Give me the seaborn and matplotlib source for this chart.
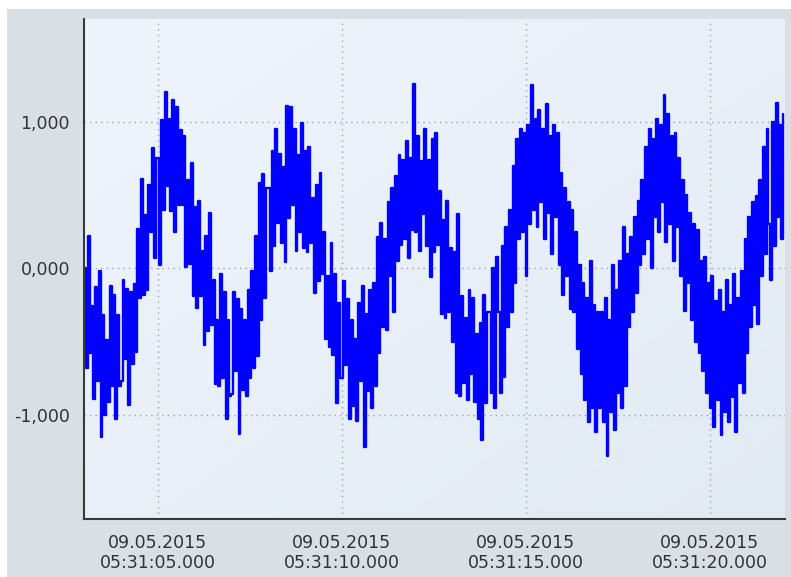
import matplotlib
matplotlib.use("Agg")
import matplotlib.pyplot as plt
import matplotlib.dates as mdates
from matplotlib.colors import LinearSegmentedColormap
from matplotlib.patches import Rectangle
from matplotlib.ticker import FixedLocator, MultipleLocator, FuncFormatter
import seaborn as sns
import numpy as np
import pandas as pd

# --- Data (one row per second, 50 ms sampling) ---
start_time = "2015-05-09 05:31:03.000"
sample_period = "50ms"
signal = [
    # 05:31:03
    0.00, -0.68, 0.22, -0.58, -0.26, -0.89, -0.13, -0.77, -0.02, -1.15,
    -0.32, -1.00, -0.49, -0.91, -0.12, -0.80, -0.18, -1.03, -0.32, -0.80,
    # 05:31:04
    -0.77, -0.08, -0.62, -0.14, -0.93, -0.16, -0.65, -0.11, -0.57, 0.27,
    -0.20, 0.61, -0.18, 0.36, -0.15, 0.57, 0.25, 0.82, 0.07, 0.75,
    # 05:31:05
    0.75, 0.02, 1.01, 0.40, 1.20, 0.56, 1.02, 0.39, 1.15, 0.25,
    1.10, 0.43, 0.94, 0.43, 0.90, 0.01, 0.60, 0.03, 0.72, -0.19,
    # 05:31:06
    0.42, -0.27, 0.46, -0.19, 0.12, -0.52, 0.22, -0.43, 0.38, -0.39,
    -0.08, -0.79, -0.35, -0.80, -0.04, -0.75, -0.16, -1.03, -0.35, -0.87,
    # 05:31:07
    -0.86, -0.16, -0.70, -0.21, -1.13, -0.28, -0.83, -0.35, -0.87, -0.15,
    -0.75, -0.02, -0.68, 0.22, -0.60, 0.58, -0.35, 0.64, -0.20, 0.55,
    # 05:31:08
    0.55, -0.02, 0.80, 0.15, 0.95, 0.31, 0.78, 0.17, 0.69, 0.04,
    1.11, 0.34, 1.10, 0.43, 0.95, 0.12, 0.77, 0.25, 0.99, 0.14,
    # 05:31:09
    0.80, 0.11, 0.83, 0.17, 0.48, -0.17, 0.57, -0.09, 0.65, -0.04,
    0.25, -0.48, -0.05, -0.54, 0.17, -0.59, -0.04, -0.92, -0.24, -0.75,
    # 05:31:10
    -0.75, -0.09, -0.66, -0.21, -1.03, -0.35, -0.94, -0.48, -1.04, -0.24,
    -0.77, -0.12, -1.22, -0.31, -0.84, -0.15, -0.95, -0.10, -0.80, 0.21,
    # 05:31:11
    -0.58, 0.31, -0.40, 0.20, -0.42, 0.45, -0.05, 0.55, -0.30, 0.63,
    0.05, 0.77, 0.16, 0.74, 0.20, 0.87, 0.07, 0.75, 0.26, 1.26,
    # 05:31:12
    0.25, 0.90, 0.12, 0.73, 0.37, 0.95, 0.15, 0.74, -0.06, 0.88,
    0.11, 0.92, 0.16, 0.53, -0.31, 0.33, -0.34, 0.46, -0.30, 0.14,
    # 05:31:13
    -0.50, 0.11, -0.85, 0.37, -0.87, -0.19, -0.78, -0.34, -0.90, -0.15,
    -0.72, -0.20, -0.91, -0.45, -1.03, -0.37, -1.17, -0.18, -0.92, -0.30,
    # 05:31:14
    -0.30, -0.85, 0.00, -0.95, 0.08, -0.30, -0.85, 0.15, -0.74, 0.28,
    -0.40, 0.40, -0.30, 0.70, -0.10, 0.88, 0.20, 0.95, 0.25, 0.92,
    # 05:31:15
    -0.05, 0.98, 0.30, 1.25, 0.40, 1.02, 0.28, 1.08, 0.45, 0.95,
    0.20, 1.12, 0.38, 0.90, 0.10, 0.98, 0.35, 0.92, 0.02, 0.65,
    # 05:31:16
    -0.18, 0.55, -0.05, 0.45, -0.28, 0.40, -0.30, 0.25, -0.55, 0.02,
    -0.72, -0.10, -0.90, -0.20, -1.05, 0.05, -0.95, -0.25, -1.12, -0.30,
    # 05:31:17
    -0.95, -0.30, -1.05, -0.20, -1.28, -0.35, -0.98, 0.02, -1.10, -0.15,
    -0.85, 0.05, -0.95, 0.28, -0.80, 0.10, -0.40, 0.21, -0.30, 0.35,
    # 05:31:18
    -0.17, 0.46, 0.02, 0.60, 0.10, 0.83, 0.20, 0.95, 0.00, 0.88,
    0.35, 1.02, 0.25, 0.98, 0.45, 1.18, 0.18, 1.05, 0.30, 0.90,
    # 05:31:19
    0.05, 0.92, 0.28, 0.75, -0.05, 0.60, -0.29, 0.50, -0.10, 0.38,
    -0.35, 0.30, -0.50, 0.26, -0.58, 0.05, -0.70, 0.08, -0.85, -0.10,
    # 05:31:20
    -0.95, -0.05, -1.08, -0.22, -0.90, -0.15, -1.14, -0.30, -0.98, -0.08,
    -1.05, -0.25, -0.88, -0.04, -1.12, -0.20, -0.78, -0.02, -0.85, 0.20,
    # 05:31:21
    -0.58, 0.35, -0.40, 0.45, -0.25, 0.49, -0.38, 0.60, -0.05, 0.83,
    0.10, 0.95, 0.30, -0.08, 1.00, 0.15, 1.13, 0.35, 0.98, 0.20,
    # 05:31:22
    1.05,
]
y_major = [-1.0, 0.0, 1.0]
x_range = ("2015-05-09 05:31:03.000", "2015-05-09 05:31:22.050")
y_range = (-1.71, 1.70)

times = pd.date_range(start_time, periods=len(signal), freq=sample_period)
df = pd.DataFrame({"time": times, "value": signal})

# --- Figure ---
sns.set_style("white")
fig = plt.figure(figsize=(7.91, 5.77), dpi=100)
fig.patch.set_facecolor("white")
fig.patches.append(Rectangle((7 / 791, 0), 1, 568 / 577, transform=fig.transFigure,
                             facecolor="#d9e0e5", edgecolor="none", zorder=-10))

pos = [84 / 791, 58 / 577, 701 / 791, 500 / 577]

# gradient background behind the plot
ax_bg = fig.add_axes(pos, zorder=0)
grad = np.add.outer(np.linspace(0, 1, 200), np.linspace(0, 1, 200)) / 2
cmap = LinearSegmentedColormap.from_list("bg", ["#eff5fd", "#e2eaf3"])
ax_bg.imshow(grad, cmap=cmap, aspect="auto", extent=[0, 1, 0, 1], origin="upper")
ax_bg.axis("off")

ax = fig.add_axes(pos, zorder=1)
ax.set_facecolor("none")

# step drawing gives the solid band of vertical strokes seen in the reference
sns.lineplot(data=df, x="time", y="value", ax=ax, color="#0000ff",
             linewidth=1.7, estimator=None, sort=False, drawstyle="steps-post")

ax.set_xlim(pd.Timestamp(x_range[0]), pd.Timestamp(x_range[1]))
ax.set_ylim(*y_range)
ax.set_xlabel("")
ax.set_ylabel("")

# x ticks
ax.xaxis.set_major_locator(mdates.SecondLocator(bysecond=range(0, 60, 5)))
minor_times = pd.date_range("2015-05-09 05:31:03.750", x_range[1], freq="1250ms")
ax.xaxis.set_minor_locator(FixedLocator(mdates.date2num(minor_times)))


def fmt_time(x, pos=None):
    d = mdates.num2date(x)
    return d.strftime("%d.%m.%Y\n%H:%M:%S") + ".%03d" % (d.microsecond // 1000)


ax.xaxis.set_major_formatter(FuncFormatter(fmt_time))

# y ticks
ax.yaxis.set_major_locator(FixedLocator(y_major))
ax.yaxis.set_minor_locator(MultipleLocator(0.25))
ax.yaxis.set_major_formatter(FuncFormatter(lambda v, p: f"{v:.3f}".replace(".", ",")))

ax.tick_params(which="major", direction="in", length=7, width=1.2, color="#333333",
               labelsize=12.5, labelcolor="#333333")
ax.tick_params(which="minor", direction="in", length=4, width=1.2, color="#333333")
ax.tick_params(axis="y", which="major", pad=10)
ax.tick_params(axis="x", which="major", pad=11)
for lab in ax.get_xticklabels():
    lab.set_linespacing(1.15)

ax.grid(True, which="major", linestyle=(0, (1, 3)), color="#9aa3b0", linewidth=1)

for side in ["top", "right"]:
    ax.spines[side].set_visible(False)
for side in ["left", "bottom"]:
    ax.spines[side].set_color("#3a3a3a")
    ax.spines[side].set_linewidth(1.5)

fig.savefig("out.png", dpi=100)
